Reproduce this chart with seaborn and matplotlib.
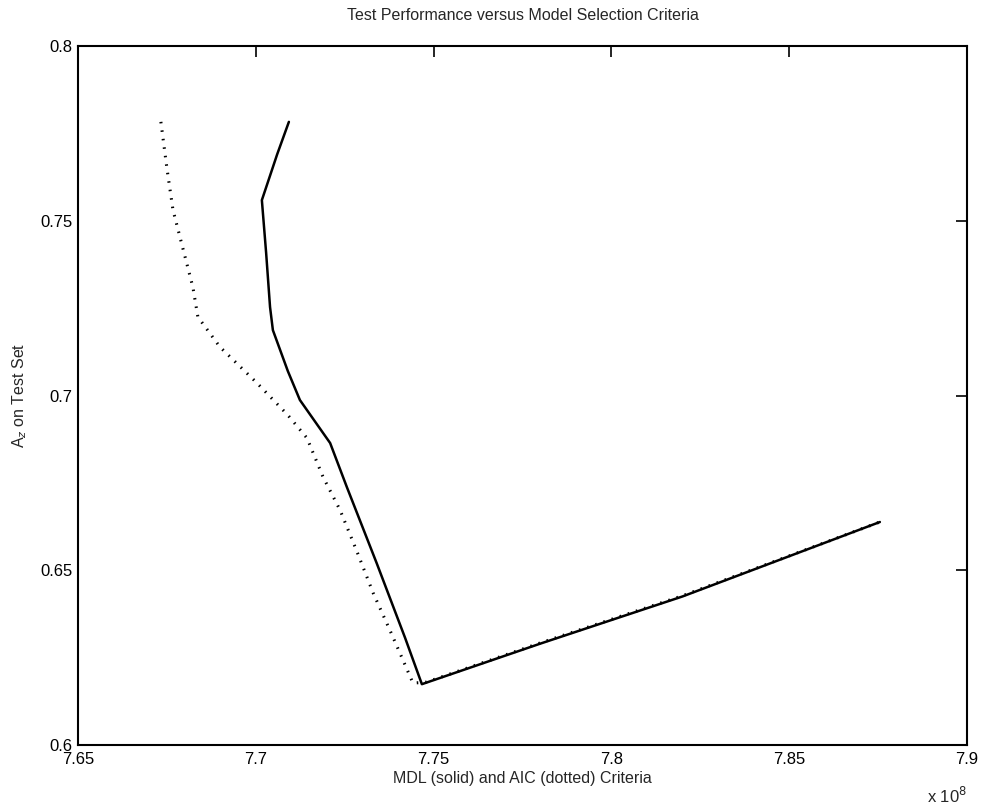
import matplotlib
matplotlib.use("Agg")
import matplotlib.pyplot as plt
import seaborn as sns
import pandas as pd

sns.set_style("white")
plt.rcParams['font.family'] = ['Liberation Sans', 'DejaVu Sans']

# MDL criterion (solid), x in units of 1e8
mdl_x = [7.7093, 7.7060, 7.7017, 7.7029, 7.7040, 7.7048, 7.7090, 7.7124,
         7.7209, 7.7256, 7.7340, 7.7420, 7.7467, 7.7800, 7.8200, 7.8755]
mdl_y = [0.7783, 0.7690, 0.7559, 0.7408, 0.7253, 0.7187, 0.7070, 0.6987,
         0.6864, 0.6738, 0.6520, 0.6306, 0.6174, 0.6290, 0.6425, 0.6638]

# AIC criterion (dotted)
aic_x = [7.6733, 7.6750, 7.6767, 7.6823, 7.6837, 7.6899, 7.7003, 7.7090,
         7.7144, 7.7189, 7.7237, 7.7285, 7.7330, 7.7383, 7.7442, 7.7480,
         7.7800, 7.8200, 7.8755]
aic_y = [0.7783, 0.7650, 0.7531, 0.7310, 0.7225, 0.7139, 0.7036, 0.6944,
         0.6878, 0.6767, 0.6672, 0.6552, 0.6435, 0.6315, 0.6177, 0.6180,
         0.6292, 0.6427, 0.6638]

x_ticks = [7.65, 7.7, 7.75, 7.8, 7.85, 7.9]
y_ticks = [0.6, 0.65, 0.7, 0.75, 0.8]
x_ticklabels = ['7.65', '7.7', '7.75', '7.8', '7.85', '7.9']
y_ticklabels = ['0.6', '0.65', '0.7', '0.75', '0.8']

mdl = pd.DataFrame({'crit': mdl_x, 'az': mdl_y})
aic = pd.DataFrame({'crit': aic_x, 'az': aic_y})

fig = plt.figure(figsize=(9.84, 8.06), dpi=100)
ax = fig.add_axes([0.0793, 0.0757, 0.9034, 0.8672])

sns.lineplot(data=aic, x='crit', y='az', sort=False, color='black',
             lw=2.2, linestyle=(0, (0.5, 2.3)), ax=ax)
sns.lineplot(data=mdl, x='crit', y='az', sort=False, color='black',
             lw=1.8, ax=ax)

ax.set_xlim(7.65, 7.9)
ax.set_ylim(0.6, 0.8)
ax.set_xticks(x_ticks)
ax.set_xticklabels(x_ticklabels)
ax.set_yticks(y_ticks)
ax.set_yticklabels(y_ticklabels)
ax.tick_params(direction='in', length=8, width=1.2, top=True, right=True,
               labelsize=12, colors='black')
ax.tick_params(axis='x', pad=5)
ax.tick_params(axis='y', pad=4)
for s in ax.spines.values():
    s.set_visible(True)
    s.set_color('black')
    s.set_linewidth(1.5)

ax.set_title('Test Performance versus Model Selection Criteria', fontsize=11.5, pad=19)
ax.set_xlabel('MDL (solid) and AIC (dotted) Criteria', fontsize=11.5, labelpad=3)
ax.set_ylabel(r'A$_z$ on Test Set', fontsize=11.5, labelpad=8)
ax.text(1.0, -0.058, r'x 10$^{8}$', transform=ax.transAxes, fontsize=12,
        ha='right', va='top')

fig.savefig('out.png', dpi=100, facecolor='white')
